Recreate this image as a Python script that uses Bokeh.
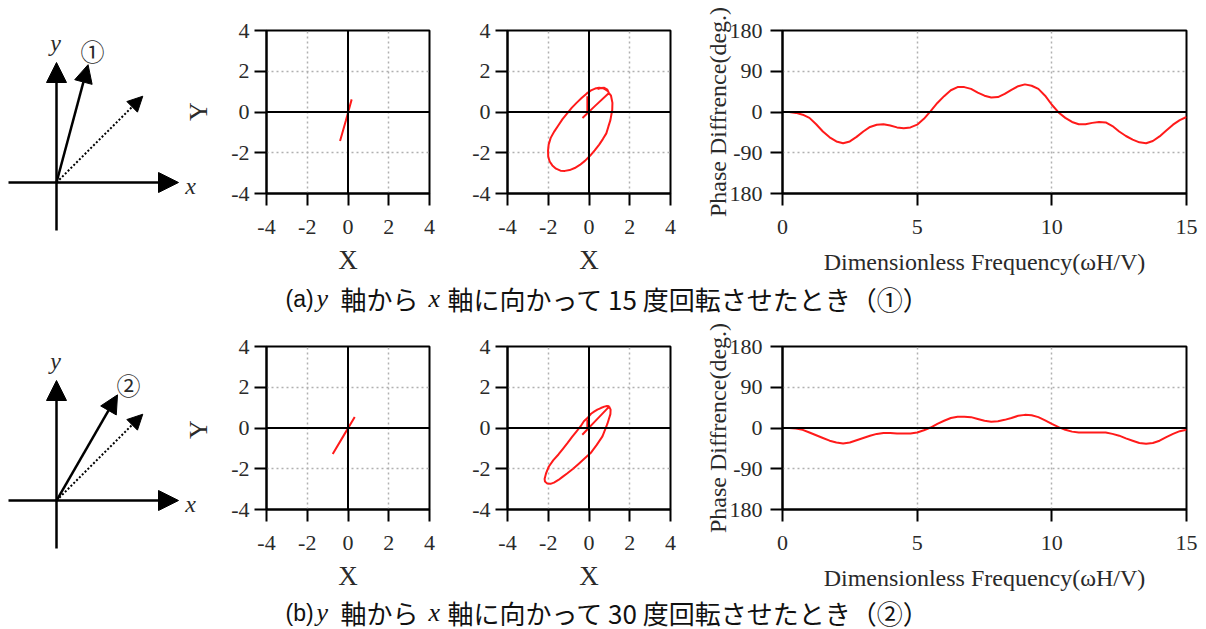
from bokeh.plotting import figure
from bokeh.layouts import column, row
from bokeh.models import Range1d, FixedTicker, Span, Label, Arrow, NormalHead
from bokeh.embed import file_html
from bokeh.resources import INLINE
import numpy as np

# ---------------- data ----------------
rot_deg = [15, 30]          # rotation of the input direction from y axis
ref_deg = 45                # dotted reference direction
circ_labels = ["①", "②"]
circ_pos = [(36, 132), (72, 116)]

freq = [0, 0.25, 0.5, 0.75, 1, 1.25, 1.5, 1.75, 2, 2.25, 2.5, 2.75, 3, 3.25, 3.5, 3.75,
        4, 4.25, 4.5, 4.75, 5, 5.25, 5.5, 5.75, 6, 6.25, 6.5, 6.75, 7, 7.25, 7.5, 7.75,
        8, 8.25, 8.5, 8.75, 9, 9.25, 9.5, 9.75, 10, 10.25, 10.5, 10.75, 11, 11.25, 11.5, 11.75,
        12, 12.25, 12.5, 12.75, 13, 13.25, 13.5, 13.75, 14, 14.25, 14.5, 14.75, 15]
phase_a = [0, 0, -2, -6, -13, -27, -43, -56, -65, -69, -65, -55, -43, -33, -28, -27,
           -30, -34, -36, -34, -28, -15, 2, 20, 35, 48, 55, 55, 51, 43, 36, 32,
           33, 40, 49, 57, 61, 58, 51, 36, 16, -1, -13, -22, -27, -27, -24, -22,
           -23, -31, -43, -53, -61, -67, -69, -64, -54, -41, -28, -18, -11]
phase_b = [0, 0, -1, -4, -10, -16, -22, -28, -32, -34, -32, -27, -22, -17, -13, -11,
           -11, -12, -12, -12, -10, -5, 1, 9, 16, 22, 25, 25, 24, 20, 16, 14,
           15, 18, 22, 27, 29, 28, 24, 17, 9, 2, -4, -8, -10, -10, -10, -10,
           -10, -13, -17, -23, -28, -33, -35, -33, -28, -20, -13, -7, -4]

# orbits (X, Y) -- nearly straight
orb1a_x = [-0.39, -0.1, 0.18]
orb1a_y = [-1.42, -0.4, 0.62]
orb1b_x = [-0.75, -0.2, 0.33]
orb1b_y = [-1.28, -0.35, 0.54]
# orbits -- with loop
orb2a_x = [-0.32, 0.3, 0.98, 1.08, 1.15, 1.14, 1.05, 0.95, 0.85, 0.68, 0.5, 0.28, 0.05, -0.2, -0.45,
           -0.7, -0.95, -1.18, -1.4, -1.62, -1.8, -1.93, -2.0, -2.01, -1.98, -1.88, -1.7, -1.5, -1.3,
           -1.08, -0.85, -0.6, -0.35, -0.12, 0.1, 0.3, 0.5, 0.68, 0.82, 0.93, 0.98, 0.9, 0.75, 0.58, 0.42]
orb2a_y = [-0.29, 0.3, 0.93, 0.8, 0.45, 0.1, -0.4, -0.72, -1.05, -1.33, -1.6, -1.88, -2.15, -2.4, -2.6,
           -2.75, -2.85, -2.89, -2.88, -2.78, -2.62, -2.43, -2.2, -1.9, -1.6, -1.27, -0.95, -0.65, -0.35,
           -0.08, 0.2, 0.46, 0.7, 0.9, 1.06, 1.15, 1.19, 1.17, 1.1, 1.02, 0.93, 1.1, 1.19, 1.18, 1.12]
hook2a_x = [-0.08, -0.08]
hook2a_y = [0.77, 0.03]
orb2b_x = [-0.33, 0.33, 0.99, 1.06, 1.05, 0.9, 0.66, 0.38, 0.08, -0.22, -0.5, -0.78, -1.06, -1.3,
           -1.5, -1.72, -1.89, -2.05, -2.16, -2.18, -2.1, -1.97, -1.75, -1.5, -1.28, -1.06, -0.83,
           -0.6, -0.4, -0.25, -0.05, 0.1, 0.25, 0.41, 0.58, 0.75, 0.88, 0.99, 0.9]
orb2b_y = [-0.33, 0.36, 1.05, 0.9, 0.68, 0.2, -0.41, -0.83, -1.23, -1.5, -1.75, -2.0, -2.22, -2.4,
           -2.55, -2.68, -2.74, -2.72, -2.63, -2.5, -2.2, -1.89, -1.58, -1.3, -1.02, -0.74, -0.44,
           -0.15, 0.1, 0.33, 0.52, 0.7, 0.8, 0.9, 0.98, 1.05, 1.08, 1.07, 0.98]
hook2b_x = [-0.08, -0.08]
hook2b_y = [0.42, 0.02]

xy_ticks = [-4, -2, 0, 2, 4]
xy_grid = [-2, 2]
ph_xticks = [0, 5, 10, 15]
ph_yticks = [-180, -90, 0, 90, 180]
ph_xgrid = [5, 10]
ph_ygrid = [-90, 90]

caption_a = ["(a)", "y", "軸から", "x", "軸に向かって 15 度回転させたとき（①）"]
caption_b = ["(b)", "y", "軸から", "x", "軸に向かって 30 度回転させたとき（②）"]

SERIF = "Liberation Serif"
RED = "#ff1a1a"
TXT = "#2a2a2a"


def style_axes(p):
    for ax in (p.xaxis[0], p.yaxis[0]):
        ax.axis_line_color = "black"
        ax.axis_line_width = 2
        ax.major_tick_line_color = "black"
        ax.major_tick_line_width = 2
        ax.major_tick_out = 12
        ax.major_tick_in = 0
        ax.minor_tick_line_color = None
        ax.major_label_text_font = SERIF
        ax.major_label_text_font_size = "22px"
        ax.major_label_text_color = TXT
        ax.axis_label_text_font = SERIF
        ax.axis_label_text_font_size = "24px"
        ax.axis_label_text_font_style = "normal"
        ax.axis_label_text_color = TXT
    p.outline_line_color = "black"
    p.outline_line_width = 2
    p.outline_line_alpha = 1
    for g in (p.xgrid[0], p.ygrid[0]):
        g.grid_line_color = "#b0b0b0"
        g.grid_line_dash = "2 3"
        g.grid_line_width = 1.5
    p.background_fill_color = "white"
    p.border_fill_color = "white"


def diagram(k, h, top):
    p = figure(frame_width=212, frame_height=h, x_range=Range1d(-56, 156), y_range=Range1d(top - h, top),
               output_backend="svg", toolbar_location=None, x_axis_type=None, y_axis_type=None,
               min_border=0)
    p.outline_line_color = None
    p.xgrid.visible = False
    p.ygrid.visible = False
    p.add_layout(Arrow(end=NormalHead(size=20, fill_color="black", line_color="black"),
                       x_start=0, y_start=-48, x_end=0, y_end=120, line_width=2.5))
    p.add_layout(Arrow(end=NormalHead(size=20, fill_color="black", line_color="black"),
                       x_start=-48, y_start=0, x_end=122, y_end=0, line_width=2.5))
    L = 122
    th = np.radians(rot_deg[k])
    p.add_layout(Arrow(end=NormalHead(size=18, fill_color="black", line_color="black"),
                       x_start=0, y_start=0, x_end=L * np.sin(th), y_end=L * np.cos(th), line_width=2.5))
    tr = np.radians(ref_deg)
    p.add_layout(Arrow(end=NormalHead(size=15, fill_color="black", line_color="black"),
                       x_start=0, y_start=0, x_end=L * np.sin(tr), y_end=L * np.cos(tr),
                       line_width=2, line_dash="2 2"))
    p.add_layout(Label(x=-1, y=140, text="y", text_font=SERIF, text_font_style="italic",
                       text_font_size="24px", text_align="center", text_baseline="middle", text_color=TXT))
    p.add_layout(Label(x=134, y=-3, text="x", text_font=SERIF, text_font_style="italic",
                       text_font_size="24px", text_align="center", text_baseline="middle", text_color=TXT))
    p.add_layout(Label(x=circ_pos[k][0], y=circ_pos[k][1], text=circ_labels[k], text_font="Noto Sans CJK JP",
                       text_font_size="24px", text_font_style="normal", text_align="center",
                       text_baseline="middle", text_color=TXT))
    # Y axis title of the neighbouring orbit plot
    p.add_layout(Label(x=142, y=71, text="Y", text_font=SERIF, text_font_size="26px", angle=np.pi / 2,
                       text_align="center", text_baseline="middle", text_color=TXT))
    return p


def xy_plot(xs_list, ys_list, left, right, bottom):
    p = figure(frame_width=163, frame_height=163, x_range=Range1d(-4, 4), y_range=Range1d(-4, 4),
               output_backend="svg", toolbar_location=None,
               min_border_left=left, min_border_right=right, min_border_top=30,
               min_border_bottom=bottom, x_axis_label="X")
    style_axes(p)
    p.xaxis.axis_label_text_font_size = "27px"
    p.xaxis.ticker = FixedTicker(ticks=xy_ticks)
    p.yaxis.ticker = FixedTicker(ticks=xy_ticks)
    p.xaxis.major_label_overrides = {-4: "-4", -2: "-2"}
    p.yaxis.major_label_overrides = {-4: "-4", -2: "-2"}
    p.xgrid.ticker = FixedTicker(ticks=xy_grid)
    p.ygrid.ticker = FixedTicker(ticks=xy_grid)
    p.xaxis.major_label_standoff = 14
    p.yaxis.major_label_standoff = 5
    p.xaxis.axis_label_standoff = 8
    p.add_layout(Span(location=0, dimension="width", line_color="black", line_width=2))
    p.add_layout(Span(location=0, dimension="height", line_color="black", line_width=2))
    p.multi_line(xs=xs_list, ys=ys_list, line_color=RED, line_width=2)
    return p


def phase_plot(vals, bottom):
    p = figure(frame_width=404, frame_height=163, x_range=Range1d(0, 15), y_range=Range1d(-180, 180),
               output_backend="svg", toolbar_location=None,
               min_border_left=97, min_border_right=20, min_border_top=30,
               min_border_bottom=bottom,
               x_axis_label="Dimensionless Frequency(ωH/V)", y_axis_label="Phase Diffrence(deg.)")
    style_axes(p)
    p.xaxis.ticker = FixedTicker(ticks=ph_xticks)
    p.yaxis.ticker = FixedTicker(ticks=ph_yticks)
    p.yaxis.major_label_overrides = {-180: "180", -90: "-90"}
    p.xgrid.ticker = FixedTicker(ticks=ph_xgrid)
    p.ygrid.ticker = FixedTicker(ticks=ph_ygrid)
    p.xaxis.major_label_standoff = 14
    p.yaxis.major_label_standoff = 8
    p.xaxis.axis_label_standoff = 12
    p.yaxis.axis_label_standoff = -4
    p.add_layout(Span(location=0, dimension="width", line_color="black", line_width=2))
    p.line(freq, vals, line_color=RED, line_width=2)
    return p


def caption(parts, h, yc):
    p = figure(frame_width=994, frame_height=h, x_range=Range1d(212, 1206), y_range=Range1d(0, h),
               output_backend="svg", toolbar_location=None, x_axis_type=None, y_axis_type=None,
               min_border=0)
    p.outline_line_color = None
    p.xgrid.visible = False
    p.ygrid.visible = False
    xs = [285, 316, 340, 428, 447]
    fonts = ["Liberation Sans", SERIF, "Noto Sans CJK JP", SERIF, "Noto Sans CJK JP"]
    styles = ["normal", "italic", "normal", "italic", "normal"]
    sizes = ["23px", "26px", "26px", "26px", "26px"]
    for t, x, f, s, fs in zip(parts, xs, fonts, styles, sizes):
        p.add_layout(Label(x=x, y=yc, text=t, text_font=f, text_font_style=s, text_font_size=fs,
                           text_align="left", text_baseline="middle", text_color="#111111"))
    return p


d1 = diagram(0, 316, 182)
d2 = diagram(1, 313, 184)

x1 = xy_plot([orb1a_x], [orb1a_y], 54, 16, 85)
x2 = xy_plot([orb2a_x, hook2a_x], [orb2a_y, hook2a_y], 62, 15, 85)
ph1 = phase_plot(phase_a, 85)
c1 = caption(caption_a, 38, 18)

x3 = xy_plot([orb1b_x], [orb1b_y], 54, 16, 83)
x4 = xy_plot([orb2b_x, hook2b_x], [orb2b_y, hook2b_y], 62, 15, 83)
ph2 = phase_plot(phase_b, 83)
c2 = caption(caption_b, 37, 18)

right = column(row(x1, x2, ph1), c1, row(x3, x4, ph2), c2)
layout = row(column(d1, d2), right)

open("out.html", "w").write(file_html(layout, INLINE))
